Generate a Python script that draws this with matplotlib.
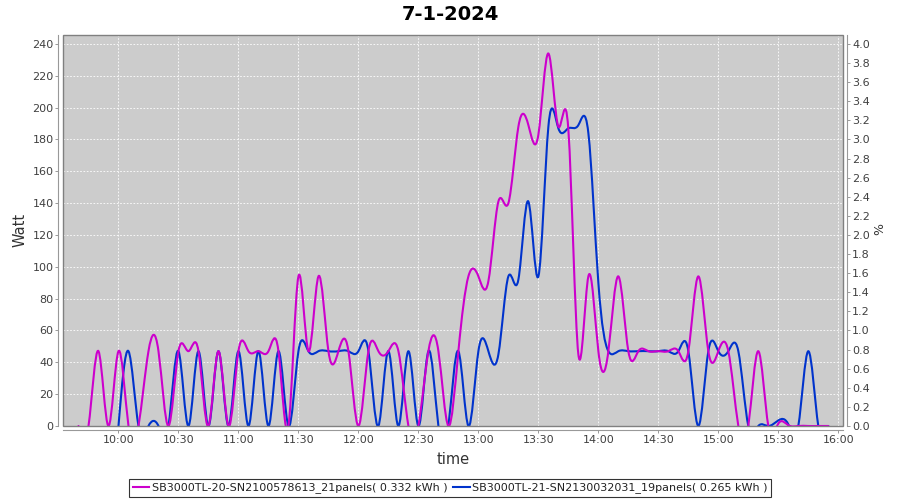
import numpy as np
import matplotlib
matplotlib.use("Agg")
import matplotlib.pyplot as plt
import matplotlib.dates as mdates
from matplotlib.path import Path
from matplotlib.patches import PathPatch, Rectangle
from matplotlib.lines import Line2D
from datetime import datetime

# ---------------- data ----------------
day = "2024-07-01"
title = "7-1-2024"

times = ["09:40", "09:45", "09:50", "09:55",
         "10:00", "10:05", "10:10", "10:15", "10:20", "10:25", "10:30", "10:35", "10:40", "10:45", "10:50", "10:55",
         "11:00", "11:05", "11:10", "11:15", "11:20", "11:25", "11:30", "11:35", "11:40", "11:45", "11:50", "11:55",
         "12:00", "12:05", "12:10", "12:15", "12:20", "12:25", "12:30", "12:35", "12:40", "12:45", "12:50", "12:55",
         "13:00", "13:05", "13:10", "13:15", "13:20", "13:25", "13:30", "13:35", "13:40", "13:45", "13:50", "13:55",
         "14:00", "14:05", "14:10", "14:15", "14:20", "14:25", "14:30", "14:35", "14:40", "14:45", "14:50", "14:55",
         "15:00", "15:05", "15:10", "15:15", "15:20", "15:25", "15:30", "15:35", "15:40", "15:45", "15:50", "15:55"]

# series 1 covers all times
watt_sn2100578613 = [0, 0, 47, 0,
                     47, 0, 0, 47, 47, 0, 47, 47, 47, 0, 47, 0,
                     47, 47, 47, 47, 47, 0, 94, 47, 94, 47, 47, 47,
                     0, 47, 47, 47, 47, 0, 0, 47, 47, 0, 47, 94,
                     94, 91, 141, 140, 188, 189, 183, 234, 188, 186, 45, 94,
                     47, 47, 94, 47, 47, 47, 47, 47, 47, 47, 94, 47,
                     47, 47, 0, 0, 47, 0, 1.5, 0.5, 0, 0, 0, 0]

# series 2 starts at 10:00
blue_first_time = "10:00"
watt_sn2130032031 = [0, 47, 0, 0, 0, 0, 47, 0, 47, 0, 47, 0,
                     47, 0, 47, 0, 47, 0, 47, 47, 47, 47, 47, 47,
                     47, 47, 0, 47, 0, 47, 0, 47, 0, 0, 47, 0,
                     47, 47, 45, 94, 92, 141, 94, 188, 187, 187, 189, 184,
                     90, 47, 47, 47, 47, 47, 47, 47, 47, 47, 0, 47,
                     47, 47, 47, 0, 0, 0, 3.5, 1, 0, 47, 0, 0]

series_labels = ["SB3000TL-20-SN2100578613_21panels( 0.332 kWh )",
                 "SB3000TL-21-SN2130032031_19panels( 0.265 kWh )"]
series_colors = ["#cc00cc", "#0033cc"]

x_tick_labels = ["10:00", "10:30", "11:00", "11:30", "12:00", "12:30", "13:00",
                 "13:30", "14:00", "14:30", "15:00", "15:30", "16:00"]
left_ticks = [0, 20, 40, 60, 80, 100, 120, 140, 160, 180, 200, 220, 240]
right_ticks = [0.0, 0.2, 0.4, 0.6, 0.8, 1.0, 1.2, 1.4, 1.6, 1.8, 2.0,
               2.2, 2.4, 2.6, 2.8, 3.0, 3.2, 3.4, 3.6, 3.8, 4.0]
x_start, x_end = "09:32", "16:02:30"
watt_max = 245.6
watt_per_percent = 60.0


def to_num(hm):
    fmt = "%Y-%m-%d %H:%M:%S" if hm.count(":") == 2 else "%Y-%m-%d %H:%M"
    return mdates.date2num(datetime.strptime(f"{day} {hm}", fmt))


def spline_path(x, y):
    """Natural cubic spline through the data points, as cubic Bezier segments."""
    x = np.asarray(x, float)
    y = np.asarray(y, float)
    n = len(x)
    h = np.diff(x)
    A = np.zeros((n, n))
    r = np.zeros(n)
    A[0, 0] = A[-1, -1] = 1.0
    for i in range(1, n - 1):
        A[i, i - 1] = h[i - 1]
        A[i, i] = 2 * (h[i - 1] + h[i])
        A[i, i + 1] = h[i]
        r[i] = 6 * ((y[i + 1] - y[i]) / h[i] - (y[i] - y[i - 1]) / h[i - 1])
    M = np.linalg.solve(A, r)
    verts = [(x[0], y[0])]
    codes = [Path.MOVETO]
    for i in range(n - 1):
        s = (y[i + 1] - y[i]) / h[i]
        d0 = s - h[i] * (2 * M[i] + M[i + 1]) / 6
        d1 = s + h[i] * (M[i] + 2 * M[i + 1]) / 6
        verts += [(x[i] + h[i] / 3, y[i] + d0 * h[i] / 3),
                  (x[i + 1] - h[i] / 3, y[i + 1] - d1 * h[i] / 3),
                  (x[i + 1], y[i + 1])]
        codes += [Path.CURVE4] * 3
    return Path(verts, codes)


# ---------------- figure ----------------
fig = plt.figure(figsize=(9, 5), dpi=100, facecolor="white")
L, R, B, T = 62.5 / 900, 843.3 / 900, (500 - 426) / 500, (500 - 35) / 500
ax = fig.add_axes([L, B, R - L, T - B])
ax.set_facecolor("#cccccc")

xs_all = [to_num(t) for t in times]
blue_times = times[times.index(blue_first_time):]
xs_blue = [to_num(t) for t in blue_times]
series = [(xs_all, watt_sn2100578613), (xs_blue, watt_sn2130032031)]
# draw series 2 first so series 1 sits on top (as in the reference)
for idx in [1, 0]:
    xs, ys = series[idx]
    patch = PathPatch(spline_path(xs, ys), facecolor="none",
                      edgecolor=series_colors[idx], lw=1.5, transform=ax.transData,
                      zorder=3 + (1 - idx), capstyle="round", joinstyle="round")
    ax.add_patch(patch)

ax.set_xlim(to_num(x_start), to_num(x_end))
ax.set_ylim(0, watt_max)
ax.set_xticks([to_num(t) for t in x_tick_labels])
ax.set_xticklabels(x_tick_labels)
ax.set_yticks(left_ticks)
ax.set_yticklabels([str(v) for v in left_ticks])

ax.grid(True, color="white", lw=0.6, linestyle=(0, (2, 2)))
ax.set_axisbelow(True)

ax2 = ax.twinx()
ax2.set_ylim(0, watt_max / watt_per_percent)
ax2.set_yticks(right_ticks)
ax2.set_yticklabels([f"{v:.1f}" for v in right_ticks])

for a in (ax, ax2):
    for sp in a.spines.values():
        sp.set_visible(False)
ax.spines["left"].set_visible(True)
ax.spines["bottom"].set_visible(True)
ax2.spines["right"].set_visible(True)
for sp in (ax.spines["left"], ax.spines["bottom"], ax2.spines["right"]):
    sp.set_position(("outward", 2.9))
    sp.set_color("#999999")
    sp.set_linewidth(0.8)

ax.add_patch(Rectangle((0, 0), 1, 1, transform=ax.transAxes, fill=False,
                       edgecolor="#808080", lw=1.0, clip_on=False, zorder=10))

for a in (ax, ax2):
    a.tick_params(axis="both", direction="out", length=2, width=0.7,
                  color="#999999", labelsize=8, labelcolor="#404040", pad=1.5)

fig.text(0.5, 1 - 14 / 500, title, ha="center", va="center",
         fontsize=14, fontweight="bold", color="black")
fig.text(20 / 900, 1 - 230 / 500, "Watt", rotation=90, ha="center", va="center",
         fontsize=10.5, color="#333333")
fig.text(453 / 900, 1 - 460 / 500, "time", ha="center", va="center",
         fontsize=10.5, color="#333333")
fig.text(880 / 900, 1 - 229 / 500, "%", rotation=90, ha="center", va="center",
         fontsize=9, color="#333333")

handles = [Line2D([], [], color=c, lw=1.5) for c in series_colors]
leg = fig.legend(handles, series_labels, loc="center", bbox_to_anchor=(0.5, 12 / 500),
                 ncol=2, fontsize=8, frameon=True, fancybox=False,
                 handlelength=1.5, handletextpad=0.2, columnspacing=0.5,
                 borderpad=0.35, borderaxespad=0)
leg.get_frame().set_edgecolor("black")
leg.get_frame().set_linewidth(0.8)
for txt in leg.get_texts():
    txt.set_color("#222222")

fig.savefig("out.png", dpi=100, facecolor="white")
